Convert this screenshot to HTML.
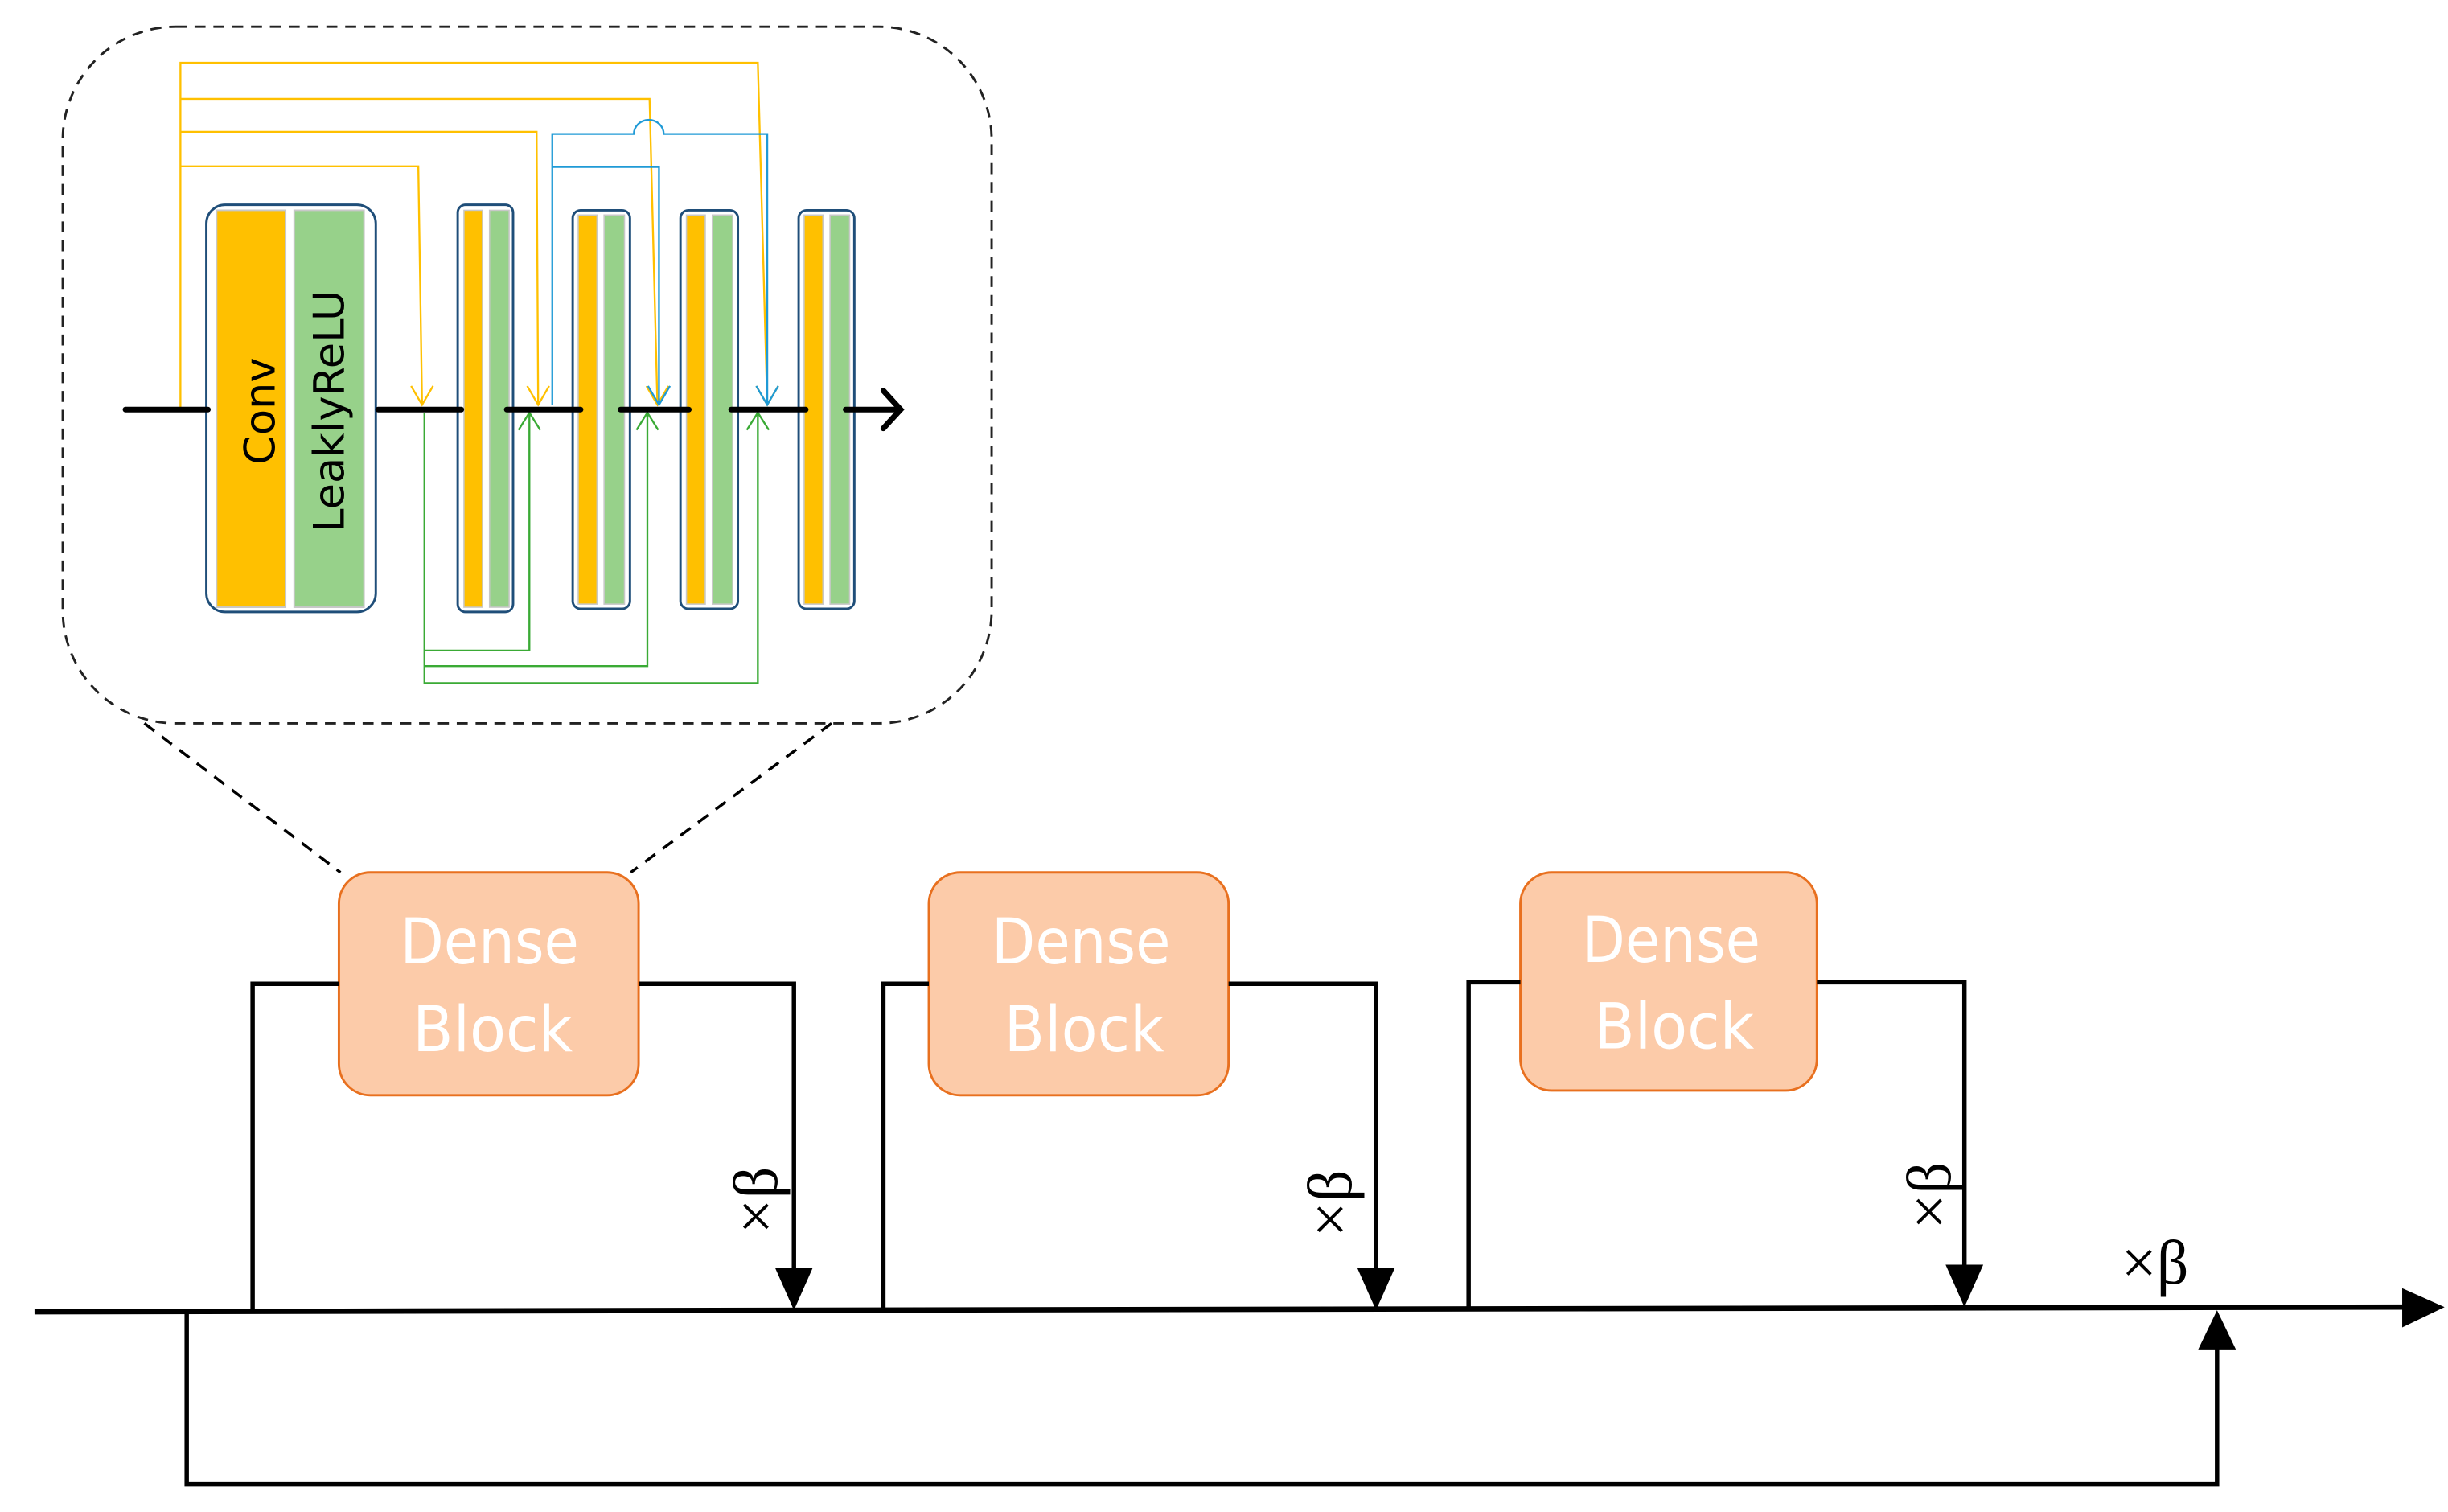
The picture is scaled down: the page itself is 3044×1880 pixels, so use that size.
<!DOCTYPE html>
<html><head><meta charset="utf-8"><style>
html,body{margin:0;padding:0;background:#fff;}
svg{display:block;}
</style></head><body>
<svg width="3044" height="1880" viewBox="0 0 1560.2 963.6" preserveAspectRatio="none" xmlns="http://www.w3.org/2000/svg">
<!-- inset dashed -->
<rect x="40" y="17" width="592" height="444" rx="72" fill="none" stroke="#222" stroke-width="1.5" stroke-dasharray="7,5"/>
<line x1="92" y1="461" x2="217" y2="556" stroke="#000" stroke-width="1.8" stroke-dasharray="8,6"/>
<line x1="530" y1="461" x2="402" y2="556" stroke="#000" stroke-width="1.8" stroke-dasharray="8,6"/>

<!-- blocks -->
<rect x="131.5" y="130.5" width="108" height="259.5" rx="12" fill="#fff" stroke="#1f4e79" stroke-width="1.5"/>
<rect x="138" y="134" width="44" height="253" fill="#ffc000" stroke="#c8c8c8" stroke-width="1"/>
<rect x="187.5" y="134" width="44.5" height="253" fill="#97d18a" stroke="#c8c8c8" stroke-width="1"/>
<text transform="translate(175,262) rotate(-90)" text-anchor="middle" font-family="'DejaVu Sans',sans-serif" font-size="27" fill="#000">Conv</text>
<text transform="translate(219,262) rotate(-90)" text-anchor="middle" font-family="'DejaVu Sans',sans-serif" font-size="27" fill="#000">LeaklyReLU</text>

<g stroke="#1f4e79" stroke-width="1.5" fill="#fff">
<rect x="291.7" y="130.5" width="35.3" height="259.5" rx="5"/>
<rect x="365" y="134" width="36.5" height="254" rx="5"/>
<rect x="433.7" y="134" width="36.6" height="254" rx="5"/>
<rect x="509" y="134" width="35.5" height="254" rx="5"/>
</g>
<g stroke="#c8c8c8" stroke-width="0.8">
<rect x="295.7" y="134" width="11.8" height="253" fill="#ffc000"/>
<rect x="312" y="134" width="12.5" height="253" fill="#97d18a"/>
<rect x="368.5" y="137" width="12" height="248" fill="#ffc000"/>
<rect x="385" y="137" width="13" height="248" fill="#97d18a"/>
<rect x="437.5" y="137" width="12" height="248" fill="#ffc000"/>
<rect x="454" y="137" width="13" height="248" fill="#97d18a"/>
<rect x="512.5" y="137" width="12" height="248" fill="#ffc000"/>
<rect x="529" y="137" width="12.5" height="248" fill="#97d18a"/>
</g>

<!-- yellow connections -->
<g stroke="#ffc000" stroke-width="1.2" fill="none">
<polyline points="115,261 115,40 483,40 489,258"/>
<polyline points="115,63 414,63 419,258"/>
<polyline points="115,84 342,84 343,258"/>
<polyline points="115,106 266.6,106 269,258"/>
<polyline points="262,246 269,258 276,246"/>
<polyline points="336,246 343,258 350,246"/>
<polyline points="412,246 419,258 426,246"/>
<polyline points="482,246 489,258 496,246"/>
</g>
<!-- blue -->
<g stroke="#1f9ad6" stroke-width="1.2" fill="none">
<path d="M352,258 L352,85.4 L404,85.4 A9.5,9 0 0 1 423,85.4 L489,85.4 L489,258"/>
<polyline points="352,106.4 420,106.4 420,258"/>
<polyline points="413,246 420,258 427,246"/>
<polyline points="482,246 489,258 496,246"/>
</g>
<!-- green -->
<g stroke="#3aaa35" stroke-width="1.2" fill="none">
<polyline points="270.5,263 270.5,435.4 483,435.4 483,263"/>
<polyline points="270.5,414.6 337.4,414.6 337.4,263"/>
<polyline points="270.5,424.5 412.6,424.5 412.6,263"/>
<polyline points="330.5,274 337.4,263 344.3,274"/>
<polyline points="405.7,274 412.6,263 419.5,274"/>
<polyline points="476,274 483,263 490,274"/>
</g>

<!-- main inset line -->
<g stroke="#000" stroke-width="3.6" stroke-linecap="round" fill="none">
<line x1="80" y1="261" x2="132.5" y2="261"/>
<line x1="241" y1="261" x2="294" y2="261"/>
<line x1="323" y1="261" x2="370" y2="261"/>
<line x1="395.5" y1="261" x2="439" y2="261"/>
<line x1="466" y1="261" x2="513.5" y2="261"/>
<line x1="539" y1="261" x2="573" y2="261"/>
<polyline points="563,249 574,261 563,273"/>
</g>

<!-- Dense blocks -->
<g fill="#fccba9" stroke="#e8701f" stroke-width="1.5">
<rect x="216" y="556" width="191" height="142" rx="20"/>
<rect x="592" y="556" width="191" height="142" rx="20"/>
<rect x="969" y="556" width="189" height="139" rx="20"/>
</g>
<g fill="#fff" font-family="'DejaVu Sans','Liberation Sans',sans-serif" font-size="40" text-anchor="middle">
<text x="312" y="614" textLength="114" lengthAdjust="spacingAndGlyphs">Dense</text><text x="314" y="670" textLength="102" lengthAdjust="spacingAndGlyphs">Block</text>
<text x="689" y="614" textLength="114" lengthAdjust="spacingAndGlyphs">Dense</text><text x="691" y="670" textLength="102" lengthAdjust="spacingAndGlyphs">Block</text>
<text x="1065" y="613" textLength="114" lengthAdjust="spacingAndGlyphs">Dense</text><text x="1067" y="668" textLength="102" lengthAdjust="spacingAndGlyphs">Block</text>
</g>

<!-- loops -->
<g stroke="#000" stroke-width="2.8" fill="none">
<polyline points="161,835 161,627 216,627"/>
<polyline points="407,627 506,627 506,812"/>
<polyline points="563,835 563,627 592,627"/>
<polyline points="783,627 877,627 877,812"/>
<polyline points="936,834 936,626 969,626"/>
<polyline points="1158,626 1252,626 1252,810"/>
<line x1="22" y1="836" x2="1535" y2="833" stroke-width="3.4"/>
<polyline points="119,836 119,946 1413,946 1413,858"/>
</g>
<g fill="#000">
<polygon points="494,808 518,808 506,835"/>
<polygon points="865,808 889,808 877,835"/>
<polygon points="1240,806 1264,806 1252,833"/>
<polygon points="1531,821 1558,833 1531,846"/>
<polygon points="1401,860 1425,860 1413,835"/>
</g>
<g font-family="'Liberation Serif','DejaVu Serif',serif" font-size="40" fill="#000">
<text transform="translate(495,765) rotate(-90)" text-anchor="middle">×β</text>
<text transform="translate(861,767) rotate(-90)" text-anchor="middle">×β</text>
<text transform="translate(1243,762) rotate(-90)" text-anchor="middle">×β</text>
<text x="1352" y="818">×β</text>
</g>
</svg>
</body></html>
